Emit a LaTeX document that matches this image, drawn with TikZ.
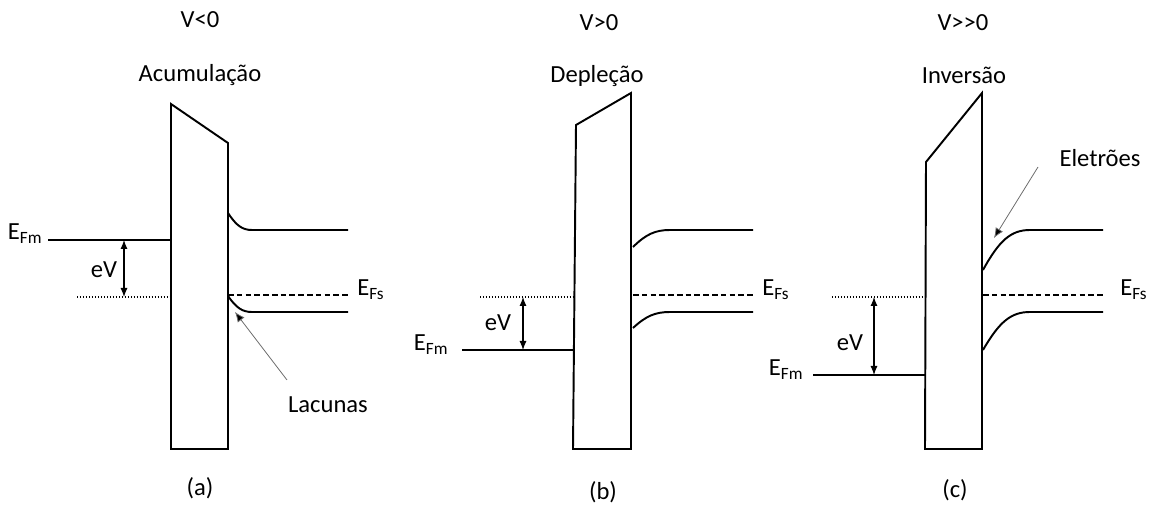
\documentclass[tikz,border=0pt]{standalone}
\usepackage{fontspec}
\setmainfont{Carlito}
\usetikzlibrary{arrows.meta,calc}
\tikzset{
  linie/.style={line width=1.1pt},
  fermi/.style={line width=1pt,dash pattern=on 3.2pt off 1.8pt},
  niveau/.style={line width=0.9pt,dash pattern=on 0.8pt off 0.9pt},
  pfeil/.style={line width=0.6pt,{Latex[length=1.8mm,width=1.4mm]}-{Latex[length=1.8mm,width=1.4mm]}},
  zeiger/.style={draw=gray!85!black,line width=0.45pt,-{Latex[length=2mm,width=1.7mm,fill=black]}},
  lbl/.style={font=\fontsize{14}{16}\selectfont,inner sep=0pt},
}
\newcommand{\Ef}[1]{E\raisebox{-2.2pt}{\fontsize{9.8}{11}\selectfont #1}}
% Bandkante: Start (#1,#2), flach ab (#3,#4), Ende bei x=#5
\newcommand{\Bandkante}[5]{%
  \draw[linie] (#1,#2) .. controls ({#1+0.35*(#3-#1)},{#2+0.75*(#4-#2)}) and ({#1+0.6*(#3-#1)},#4) .. (#3,#4) -- (#5,#4);
}

\begin{document}
\begin{tikzpicture}[x=0.02cm,y=-0.02cm]
  \useasboundingbox (0,0) rectangle (1154,506);
  % (a) Akkumulation
  \node[lbl] (VA) at (200,20) {V<0};
  \node[lbl] (zustA) at (200,75) {Acumulação};
  \draw[linie] (171,449) -- (171,104) -- (228,143) -- (228,449) -- cycle;
  \node[lbl,anchor=base east] (EFmA) at (42,240) {\Ef{Fm}};
  \coordinate (mA) at (48,240);
  \coordinate (oxA) at (171,240);
  \draw[linie] (mA) -- (oxA);
  \draw[niveau] (77,297) -- (171,297);
  \coordinate (eVobA) at (124,240);
  \coordinate (eVunA) at (124,297);
  \draw[pfeil] (eVobA) -- (eVunA);
  \node[lbl] (eVA) at (104,270) {eV};
  \Bandkante{228}{213}{252}{230}{348}
  \Bandkante{228}{296}{252}{312}{348}
  \draw[fermi] (228,295) -- (348,295);
  \node[lbl,anchor=base west] (EFsA) at (357,296) {\Ef{Fs}};
  \node[lbl] (lacunas) at (328,405) {Lacunas};
  \coordinate (lacFuss) at (287,380);
  \coordinate (lacSpitze) at (235,312);
  \draw[zeiger] (lacFuss) -- (lacSpitze);
  \node[lbl] (capA) at (200,488) {(a)};
  % (b) Verarmung
  \node[lbl] (VB) at (599,23) {V>0};
  \node[lbl] (zustB) at (597,76) {Depleção};
  \draw[linie] (573,449) -- (576,125) -- (631,93) -- (631,449) -- cycle;
  \node[lbl,anchor=base east] (EFmB) at (448,351) {\Ef{Fm}};
  \coordinate (mB) at (462,350);
  \coordinate (oxB) at (573,350);
  \draw[linie] (mB) -- (oxB);
  \draw[niveau] (480,297) -- (574,297);
  \coordinate (eVobB) at (523,297);
  \coordinate (eVunB) at (523,350);
  \draw[pfeil] (eVobB) -- (eVunB);
  \node[lbl] (eVB) at (498,323) {eV};
  \Bandkante{633}{247}{670}{230}{753}
  \Bandkante{633}{328}{670}{312}{753}
  \draw[fermi] (633,295) -- (753,295);
  \node[lbl,anchor=base west] (EFsB) at (762,296) {\Ef{Fs}};
  \node[lbl] (capB) at (603,492) {(b)};
  % (c) Inversion
  \node[lbl] (VC) at (963,23) {V{>}{>}0};
  \node[lbl] (zustC) at (964,75) {Inversão};
  \draw[linie] (925,449) -- (926,162) -- (982,93) -- (982,449) -- cycle;
  \node[lbl,anchor=base east] (EFmC) at (803,376) {\Ef{Fm}};
  \coordinate (mC) at (813,375);
  \coordinate (oxC) at (925,375);
  \draw[linie] (mC) -- (oxC);
  \draw[niveau] (832,297) -- (925,297);
  \coordinate (eVobC) at (874,297);
  \coordinate (eVunC) at (874,375);
  \draw[pfeil] (eVobC) -- (eVunC);
  \node[lbl] (eVC) at (850,343) {eV};
  \Bandkante{983}{270}{1030}{230}{1103}
  \Bandkante{983}{350}{1030}{312}{1103}
  \draw[fermi] (983,295) -- (1103,295);
  \node[lbl,anchor=base west] (EFsC) at (1120,296) {\Ef{Fs}};
  \node[lbl] (eletroes) at (1100,158) {Eletrões};
  \coordinate (eleFuss) at (1038,167);
  \coordinate (eleSpitze) at (994,238);
  \draw[zeiger] (eleFuss) -- (eleSpitze);
  \node[lbl] (capC) at (955,490) {(c)};
\end{tikzpicture}
\end{document}
